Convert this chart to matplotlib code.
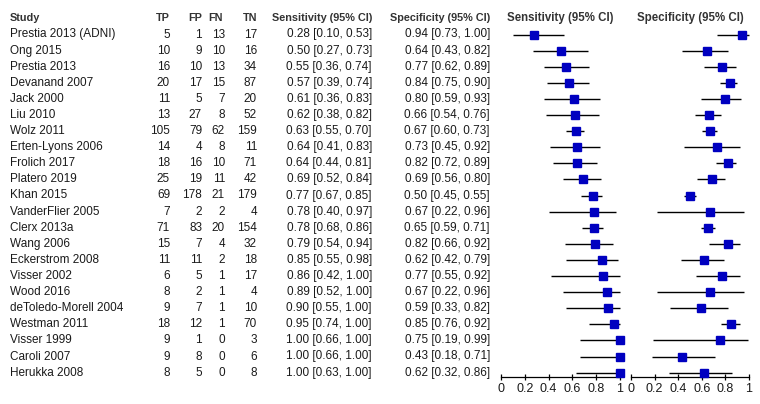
import matplotlib.pyplot as plt

plt.rcParams['font.family'] = ['Liberation Sans', 'DejaVu Sans']

# data
studies = ["Prestia 2013 (ADNI)", "Ong 2015", "Prestia 2013", "Devanand 2007",
           "Jack 2000", "Liu 2010", "Wolz 2011", "Erten-Lyons 2006", "Frolich 2017",
           "Platero 2019", "Khan 2015", "VanderFlier 2005", "Clerx 2013a", "Wang 2006",
           "Eckerstrom 2008", "Visser 2002", "Wood 2016", "deToledo-Morell 2004",
           "Westman 2011", "Visser 1999", "Caroli 2007", "Herukka 2008"]
tp = [5, 10, 16, 20, 11, 13, 105, 14, 18, 25, 69, 7, 71, 15, 11, 6, 8, 9, 18, 9, 9, 8]
fp = [1, 9, 10, 17, 5, 27, 79, 4, 16, 19, 178, 2, 83, 7, 11, 5, 2, 7, 12, 1, 8, 5]
fn = [13, 10, 13, 15, 7, 8, 62, 8, 10, 11, 21, 2, 20, 4, 2, 1, 1, 1, 1, 0, 0, 0]
tn = [17, 16, 34, 87, 20, 52, 159, 11, 71, 42, 179, 4, 154, 32, 18, 17, 4, 10, 70, 3, 6, 8]
sens = [0.28, 0.50, 0.55, 0.57, 0.61, 0.62, 0.63, 0.64, 0.64, 0.69, 0.77, 0.78, 0.78,
        0.79, 0.85, 0.86, 0.89, 0.90, 0.95, 1.00, 1.00, 1.00]
sens_lo = [0.10, 0.27, 0.36, 0.39, 0.36, 0.38, 0.55, 0.41, 0.44, 0.52, 0.67, 0.40, 0.68,
           0.54, 0.55, 0.42, 0.52, 0.55, 0.74, 0.66, 0.66, 0.63]
sens_hi = [0.53, 0.73, 0.74, 0.74, 0.83, 0.82, 0.70, 0.83, 0.81, 0.84, 0.85, 0.97, 0.86,
           0.94, 0.98, 1.00, 1.00, 1.00, 1.00, 1.00, 1.00, 1.00]
spec = [0.94, 0.64, 0.77, 0.84, 0.80, 0.66, 0.67, 0.73, 0.82, 0.69, 0.50, 0.67, 0.65,
        0.82, 0.62, 0.77, 0.67, 0.59, 0.85, 0.75, 0.43, 0.62]
spec_lo = [0.73, 0.43, 0.62, 0.75, 0.59, 0.54, 0.60, 0.45, 0.72, 0.56, 0.45, 0.22, 0.59,
           0.66, 0.42, 0.55, 0.22, 0.33, 0.76, 0.19, 0.18, 0.32]
spec_hi = [1.00, 0.82, 0.89, 0.90, 0.93, 0.76, 0.73, 0.92, 0.89, 0.80, 0.55, 0.96, 0.71,
           0.92, 0.79, 0.92, 0.96, 0.82, 0.92, 0.99, 0.71, 0.86]
ticks = [0, 0.2, 0.4, 0.6, 0.8, 1.0]
tick_labels = ["0", "0.2", "0.4", "0.6", "0.8", "1"]

W, H = 760, 404
row0, dy = 34.5, 16.1
rows = [row0 + dy * i for i in range(len(studies))]
txt = '#1a1a1a'
fs = 8.5

fig = plt.figure(figsize=(W / 100, H / 100), dpi=100)
ax = fig.add_axes([0, 0, 1, 1])
ax.set_xlim(0, W)
ax.set_ylim(H, 0)
ax.axis('off')

# header
hy = 18
hkw = dict(fontsize=7.8, fontweight='bold', color='#333333', va='center')
ax.text(10, hy, "Study", ha='left', **hkw)
ax.text(170, hy, "TP", ha='right', **hkw)
ax.text(202, hy, "FP", ha='right', **hkw)
ax.text(223, hy, "FN", ha='right', **hkw)
ax.text(257, hy, "TN", ha='right', **hkw)
ax.text(372, hy, "Sensitivity (95% CI)", ha='right', **hkw)
ax.text(490, hy, "Specificity (95% CI)", ha='right', **hkw)

kw = dict(fontsize=fs, color=txt, va='center')
for i, y in enumerate(rows):
    ax.text(10, y, studies[i], ha='left', **kw)
    ax.text(170, y, str(tp[i]), ha='right', **kw)
    ax.text(202, y, str(fp[i]), ha='right', **kw)
    ax.text(225, y, str(fn[i]), ha='right', **kw)
    ax.text(257, y, str(tn[i]), ha='right', **kw)
    ax.text(372, y, f"{sens[i]:.2f} [{sens_lo[i]:.2f}, {sens_hi[i]:.2f}]", ha='right', **kw)
    ax.text(490, y, f"{spec[i]:.2f} [{spec_lo[i]:.2f}, {spec_hi[i]:.2f}]", ha='right', **kw)

# forest panels
panels = [(501, 620, sens, sens_lo, sens_hi, "Sensitivity (95% CI)"),
          (631, 749, spec, spec_lo, spec_hi, "Specificity (95% CI)")]
for x0, x1, est, lo, hi, title in panels:
    fa = fig.add_axes([x0 / W, 0, (x1 - x0) / W, 1])
    fa.set_facecolor('none')
    fa.set_xlim(0, 1)
    fa.set_ylim(H, 0)
    for s in ['left', 'right', 'top']:
        fa.spines[s].set_visible(False)
    fa.spines['bottom'].set_position(('data', 377))
    fa.spines['bottom'].set_linewidth(0.9)
    fa.set_yticks([])
    fa.set_xticks(ticks)
    fa.set_xticklabels(tick_labels)
    fa.tick_params(axis='x', direction='inout', length=5, width=0.9, pad=1.5,
                   labelsize=9, labelcolor=txt)
    fa.hlines(rows, lo, hi, color='black', lw=1, clip_on=False)
    fa.plot(est, rows, 's', color='#0000c0', ms=5.8, mec='#0000c0', clip_on=False, zorder=3)
    fa.text(0.5, hy, title, ha='center', fontsize=8.3, fontweight='bold',
            color='#333333', va='center')

fig.savefig('out.png', dpi=100)
